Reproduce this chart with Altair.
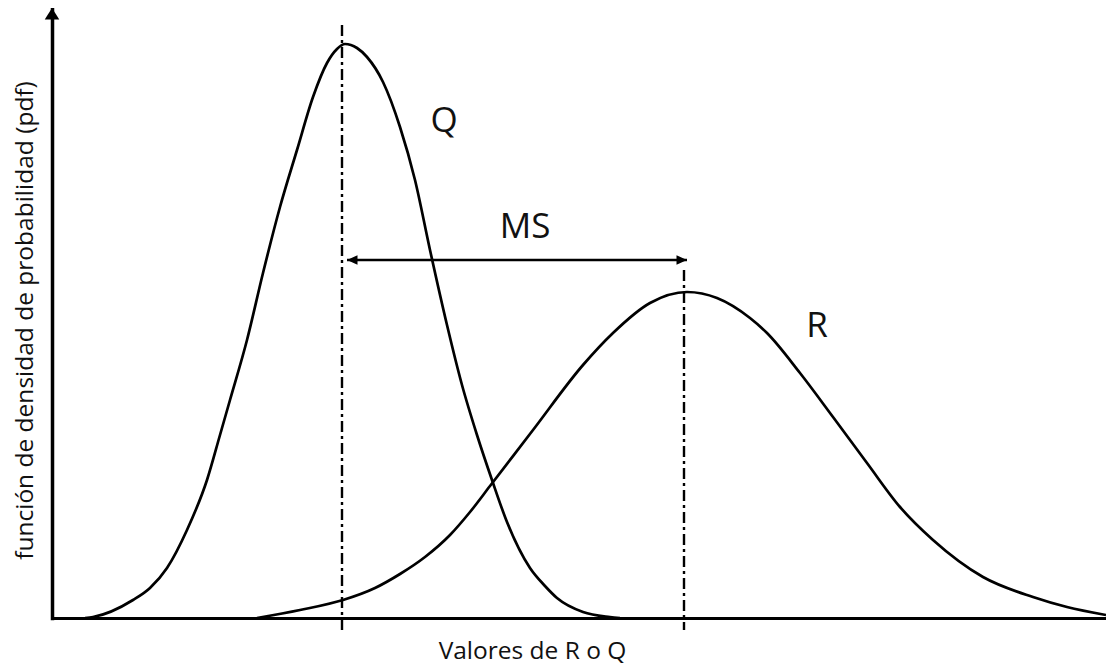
import altair as alt
import pandas as pd

# --- Curve Q (narrow, tall pdf) ---
q_x = [3.3, 4.1, 8.1, 9.8, 11.5, 13.5, 15.5, 16.8, 17.8, 19.5, 21.1, 22.8, 24.5, 26.1, 27.5, 28.5, 29.3,
       30.5, 31.5, 33.1, 34.8, 36.3, 37.8, 39.5, 41.0, 42.5, 44.0, 45.5, 47.8, 49.3, 50.5, 53.1, 55.8, 56.8]
q_pdf = [0.0, 0.01, 0.18, 0.30, 0.50, 0.88, 1.38, 1.83, 2.18, 2.78, 3.45, 4.11, 4.68, 5.21, 5.55, 5.69, 5.74,
         5.70, 5.61, 5.36, 4.91, 4.38, 3.68, 2.93, 2.33, 1.83, 1.38, 0.96, 0.50, 0.32, 0.20, 0.06, 0.01, 0.0]

# --- Curve R (wide, lower pdf) ---
r_x = [20.5, 24.8, 29.1, 32.3, 34.8, 37.3, 39.8, 41.8, 43.8, 48.1, 53.1, 56.1, 59.8, 63.5, 66.5, 69.8,
       71.5, 74.8, 78.1, 81.5, 84.8, 88.1, 93.1, 98.1, 101.5, 105.4]
r_pdf = [0.0, 0.08, 0.18, 0.30, 0.44, 0.61, 0.83, 1.06, 1.32, 1.88, 2.53, 2.85, 3.15, 3.26, 3.20, 3.00,
         2.85, 2.45, 2.01, 1.55, 1.11, 0.78, 0.41, 0.21, 0.11, 0.03]

# --- Dash-dot reference lines (means) ---
mean_names = ["Q", "R"]
mean_x = [29.0, 63.2]
mean_top = [5.93, 3.48]
mean_bottom = [-0.16, -0.12]

# --- MS arrow (margin of safety) ---
ms_start = 29.5
ms_end = 63.5
ms_level = 3.58

# --- Text labels ---
label_text = ["Q", "MS", "R"]
label_x = [39.2, 47.3, 76.5]
label_y = [4.97, 3.91, 2.92]

x_domain = [0, 105.4]
y_domain = [0, 6.10]

curves = pd.DataFrame({
    "valor": q_x + r_x,
    "pdf": q_pdf + r_pdf,
    "serie": ["Q"] * len(q_x) + ["R"] * len(r_x),
})
means = pd.DataFrame({"serie": mean_names, "valor": mean_x, "pdf": mean_top, "bottom": mean_bottom})
arrow = pd.DataFrame({"valor": [ms_start], "valor2": [ms_end], "pdf": [ms_level]})
heads = pd.DataFrame({
    "valor": [ms_start, ms_end, x_domain[0]],
    "pdf": [ms_level, ms_level, y_domain[1]],
    "dir": ["izq", "der", "arriba"],
})
labels = pd.DataFrame({"texto": label_text, "valor": label_x, "pdf": label_y})

xs = alt.Scale(domain=x_domain, nice=False, zero=False)
ys = alt.Scale(domain=y_domain, nice=False, zero=False)

FONT = "Open Sans"
X_TITLE = "Valores de R o Q"
Y_TITLE = "función de densidad de probabilidad (pdf)"

x_axis = alt.Axis(
    title=X_TITLE, labels=False, ticks=False, grid=False,
    domainColor="black", domainWidth=3, domainCap="square",
    titleFont=FONT, titleFontSize=24.5, titleFontWeight="normal", titleColor="#111111",
    titleX=480, titleY=40, titleAlign="center", titleBaseline="alphabetic",
)
y_axis = alt.Axis(
    title=Y_TITLE, labels=False, ticks=False, grid=False,
    domainColor="black", domainWidth=3.5, domainCap="square",
    titleFont=FONT, titleFontSize=24.5, titleFontWeight="normal", titleColor="#111111",
    titleAngle=270, titleX=-27, titleY=312, titleAlign="center", titleBaseline="middle",
)


def X(field="valor:Q"):
    return alt.X(field, scale=xs, axis=x_axis, title=X_TITLE)


def Y(field="pdf:Q"):
    return alt.Y(field, scale=ys, axis=y_axis, title=Y_TITLE)


curve_layer = alt.Chart(curves).mark_line(
    color="black", strokeWidth=2.7, interpolate="monotone"
).encode(x=X(), y=Y(), detail="serie:N")

mean_layer = alt.Chart(means).mark_rule(
    color="black", strokeWidth=2.4, strokeDash=[11, 4, 3, 4]
).encode(x=X(), y=Y(), y2="bottom:Q")

arrow_layer = alt.Chart(arrow).mark_rule(color="black", strokeWidth=2.7).encode(
    x=X(), x2="valor2:Q", y=Y()
)

head_layer = alt.Chart(heads).mark_point(
    filled=True, color="black", opacity=1, size=100, strokeWidth=0
).encode(
    x=X(), y=Y(),
    shape=alt.Shape(
        "dir:N",
        scale=alt.Scale(
            domain=["izq", "der", "arriba"],
            range=["M0,0L2.1,-0.95L2.1,0.95Z", "M0,0L-2.1,-0.95L-2.1,0.95Z", "M0,0L1.45,2.3L-1.45,2.3Z"],
        ),
        legend=None,
    ),
)

label_layer = alt.Chart(labels).mark_text(
    font=FONT, fontSize=35, color="#111111", align="center", baseline="middle"
).encode(x=X(), y=Y(), text="texto:N")

chart = alt.layer(
    curve_layer, mean_layer, arrow_layer, head_layer, label_layer
).properties(
    width=1054, height=610,
    autosize=alt.AutoSizeParams(type="none"),
    padding={"left": 44, "top": 0, "right": 0, "bottom": 47},
    background="white",
).configure_view(strokeWidth=0)

chart.save("out.html", embed_options={"renderer": "svg", "actions": False})
